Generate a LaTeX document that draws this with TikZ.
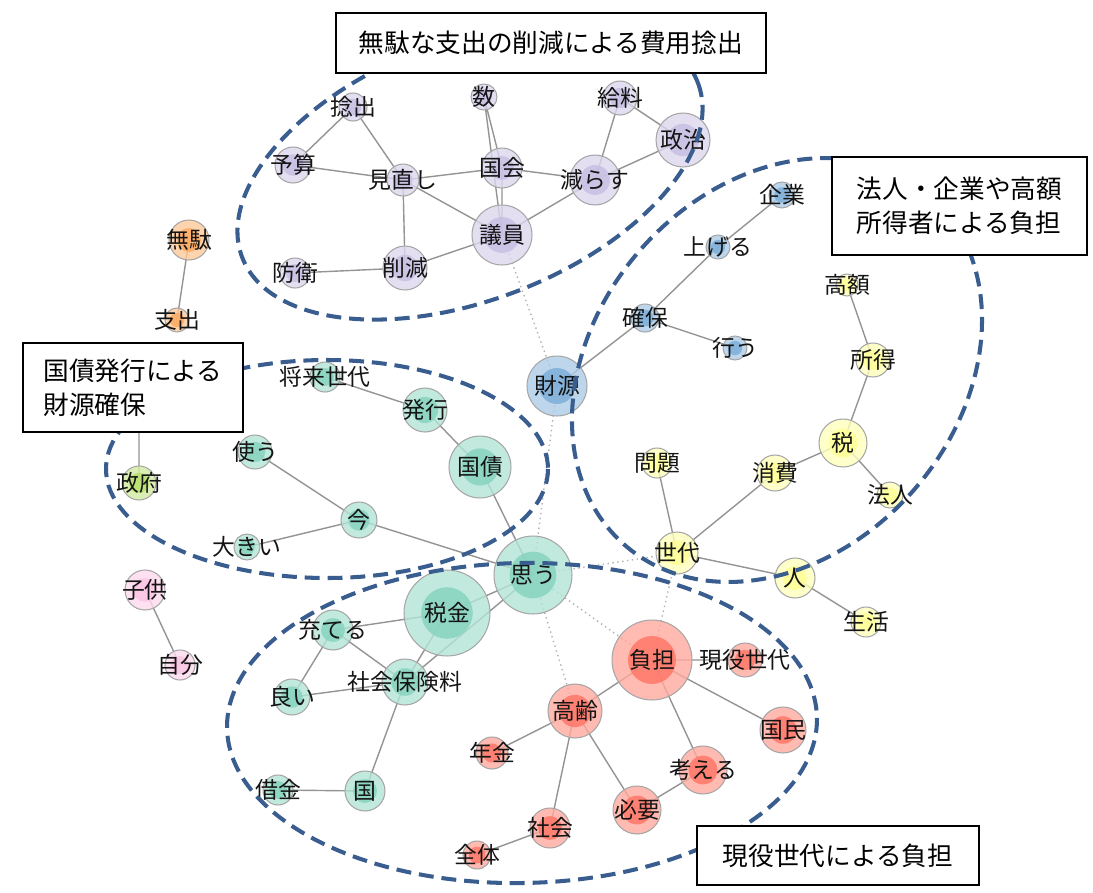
\documentclass[tikz,border=0pt]{standalone}
\usepackage{fontspec}
\setmainfont{Noto Sans CJK JP}
\usepackage{tikz}
\usetikzlibrary{backgrounds}
\definecolor{ringblue}{RGB}{58,93,143}
\definecolor{cpu}{RGB}{198,190,227}
\definecolor{cbl}{RGB}{122,172,216}
\definecolor{cye}{RGB}{255,255,148}
\definecolor{cte}{RGB}{132,211,189}
\definecolor{cre}{RGB}{255,116,100}
\definecolor{cor}{RGB}{252,168,92}
\definecolor{cgr}{RGB}{182,222,104}
\definecolor{cpi}{RGB}{250,196,228}

\begin{document}
\begin{tikzpicture}[x=0.02cm,y=-0.02cm,
  wd/.style 2 args={circle,draw=black!35,line width=0.6pt,inner sep=0pt,
    minimum size=#1*0.04cm,fill=#2!62!white,fill opacity=0.8,
    path picture={\fill[#2] (path picture bounding box.center) circle (#1*0.012cm);}},
  every label/.style={font=\fontsize{13}{14}\selectfont,text=black!92,inner sep=0pt},
  ln/.style={draw=black!42,line width=0.8pt},
  dt/.style={draw=black!30,line width=0.8pt,dotted},
  ring/.style={draw=ringblue,line width=2.3pt,dash pattern=on 8.5pt off 4.5pt},
  capbox/.style={draw=black,line width=1.1pt,fill=white,inner sep=0pt,align=left,
    anchor=north west,font=\fontsize{14.6}{19.3}\selectfont}]
\useasboundingbox (0,0) rectangle (1093,893);

\node[wd={14}{cpu},label={center:捻出}] (nenshutsu) at (353,107) {};
\node[wd={13}{cpu},label={center:数}] (kazu) at (484,97) {};
\node[wd={17}{cpu},label={center:給料}] (kyuryo) at (620,98) {};
\node[wd={27}{cpu},label={center:政治}] (seiji) at (683,140) {};
\node[wd={18}{cpu},label={center:予算}] (yosan) at (293,165) {};
\node[wd={16}{cpu},label={center:見直し}] (minaoshi) at (403,180) {};
\node[wd={20}{cpu},label={center:国会}] (kokkai) at (502,168) {};
\node[wd={25}{cpu},label={center:減らす}] (herasu) at (595,180) {};
\node[wd={30}{cpu},label={center:議員}] (giin) at (502,235) {};
\node[wd={22}{cpu},label={center:削減}] (sakugen) at (405,268) {};
\node[wd={15}{cpu},label={center:防衛}] (boei) at (295,273) {};

\node[wd={30}{cbl},label={center:財源}] (zaigen) at (557,386) {};
\node[wd={14}{cbl},label={center:確保}] (kakuho) at (645,318) {};
\node[wd={12}{cbl},label={center:上げる}] (ageru) at (718,247) {};
\node[wd={13}{cbl},label={center:企業}] (kigyo) at (782,195) {};
\node[wd={12}{cbl},label={center:行う}] (okonau) at (735,348) {};

\node[wd={11}{cye},label={center:高額}] (kogaku) at (847,285) {};
\node[wd={17}{cye},label={center:所得}] (shotoku) at (873,360) {};
\node[wd={24}{cye},label={center:税}] (zei) at (843,443) {};
\node[wd={13}{cye},label={center:法人}] (hojin) at (890,495) {};
\node[wd={18}{cye},label={center:消費}] (shohi) at (775,473) {};
\node[wd={15}{cye},label={center:問題}] (mondai) at (657,463) {};
\node[wd={21}{cye},label={center:世代}] (sedai) at (677,553) {};
\node[wd={20}{cye},label={center:人}] (hito) at (795,578) {};
\node[wd={15}{cye},label={center:生活}] (seikatsu) at (866,622) {};

\node[wd={20}{cor},label={center:無駄}] (muda) at (189,240) {};
\node[wd={12}{cor},label={center:支出}] (shishutsu) at (177,320) {};
\node[wd={17}{cgr},label={center:政府}] (seifu) at (139,483) {};
\coordinate (seifuup) at (139,420);
\node[wd={20}{cpi},label={center:子供}] (kodomo) at (145,590) {};
\node[wd={15}{cpi},label={center:自分}] (jibun) at (180,665) {};

\node[wd={15}{cte},label={center:将来世代}] (shorai) at (325,377) {};
\node[wd={22}{cte},label={center:発行}] (hakko) at (425,410) {};
\node[wd={31}{cte},label={center:国債}] (kokusai) at (480,467) {};
\node[wd={17}{cte},label={center:使う}] (tsukau) at (255,452) {};
\node[wd={18}{cte},label={center:今}] (ima) at (359,520) {};
\node[wd={13}{cte},label={center:大きい}] (ookii) at (247,547) {};
\node[wd={39}{cte},label={center:思う}] (omou) at (533,575) {};
\node[wd={43}{cte},label={center:税金}] (zeikin) at (447,613) {};
\node[wd={20}{cte},label={center:充てる}] (ateru) at (333,630) {};
\node[wd={23}{cte},label={center:社会保険料}] (hoken) at (405,682) {};
\node[wd={18}{cte},label={center:良い}] (yoi) at (292,697) {};
\node[wd={15}{cte},label={center:借金}] (shakkin) at (278,790) {};
\node[wd={20}{cte},label={center:国}] (kuni) at (365,791) {};

\node[wd={40}{cre},label={center:負担}] (futan) at (652,660) {};
\node[wd={17}{cre},label={center:現役世代}] (geneki) at (745,660) {};
\node[wd={23}{cre},label={center:国民}] (kokumin) at (783,730) {};
\node[wd={27}{cre},label={center:高齢}] (korei) at (575,711) {};
\node[wd={16}{cre},label={center:年金}] (nenkin) at (492,753) {};
\node[wd={24}{cre},label={center:考える}] (kangaeru) at (703,770) {};
\node[wd={24}{cre},label={center:必要}] (hitsuyo) at (637,810) {};
\node[wd={20}{cre},label={center:社会}] (shakai) at (550,828) {};
\node[wd={14}{cre},label={center:全体}] (zentai) at (477,855) {};

\begin{scope}[on background layer]
\draw[ln] (nenshutsu.center)--(yosan.center) (nenshutsu.center)--(minaoshi.center)
  (yosan.center)--(minaoshi.center) (minaoshi.center)--(kokkai.center)
  (minaoshi.center)--(giin.center) (minaoshi.center)--(sakugen.center)
  (kazu.center)--(kokkai.center) (kazu.center)--(giin.center)
  (kokkai.center)--(giin.center) (kokkai.center)--(herasu.center)
  (herasu.center)--(giin.center) (herasu.center)--(kyuryo.center)
  (herasu.center)--(seiji.center) (kyuryo.center)--(seiji.center)
  (sakugen.center)--(giin.center) (sakugen.center)--(boei.center);
\draw[ln] (zaigen.center)--(kakuho.center) (kakuho.center)--(ageru.center)
  (ageru.center)--(kigyo.center) (kakuho.center)--(okonau.center);
\draw[ln] (kogaku.center)--(shotoku.center) (shotoku.center)--(zei.center)
  (zei.center)--(shohi.center) (zei.center)--(hojin.center)
  (shohi.center)--(sedai.center) (mondai.center)--(sedai.center)
  (sedai.center)--(hito.center) (hito.center)--(seikatsu.center);
\draw[ln] (muda.center)--(shishutsu.center) (seifu.center)--(seifuup)
  (kodomo.center)--(jibun.center);
\draw[ln] (shorai.center)--(hakko.center) (hakko.center)--(kokusai.center)
  (kokusai.center)--(omou.center) (tsukau.center)--(ima.center)
  (ima.center)--(ookii.center) (ima.center)--(omou.center)
  (omou.center)--(zeikin.center) (omou.center)--(hoken.center)
  (zeikin.center)--(hoken.center) (zeikin.center)--(ateru.center)
  (ateru.center)--(hoken.center) (ateru.center)--(yoi.center)
  (yoi.center)--(hoken.center) (hoken.center)--(kuni.center)
  (kuni.center)--(shakkin.center);
\draw[ln] (futan.center)--(geneki.center) (futan.center)--(korei.center)
  (futan.center)--(kokumin.center) (futan.center)--(kangaeru.center)
  (korei.center)--(nenkin.center) (korei.center)--(shakai.center)
  (korei.center)--(hitsuyo.center) (hitsuyo.center)--(kangaeru.center)
  (shakai.center)--(zentai.center);
\draw[dt] (giin.center)--(zaigen.center) (zaigen.center)--(omou.center)
  (sedai.center)--(omou.center) (sedai.center)--(futan.center)
  (omou.center)--(korei.center) (omou.center)--(futan.center);
\end{scope}

\draw[ring,rotate around={21:(470,170)}] (470,170) ellipse (244 and 130);
\draw[ring,rotate around={49:(777,370)}] (777,370) ellipse (232 and 182);
\draw[ring] (327,469) ellipse (221 and 109);
\draw[ring,rotate around={1:(522,723)}] (522,723) ellipse (295 and 160);

\node[capbox,minimum width=8.6cm,minimum height=1.2cm] (capcut) at (335,12) {無駄な支出の削減による費用捻出};
\node[capbox,minimum width=5.1cm,minimum height=1.96cm] (capcorp) at (831,156) {法人・企業や高額\\所得者による負担};
\node[capbox,minimum width=4.4cm,minimum height=1.78cm] (capbond) at (22,342) {国債発行による\\財源確保};
\node[capbox,minimum width=5.64cm,minimum height=1.18cm] (capgen) at (696,825) {現役世代による負担};
\end{tikzpicture}
\end{document}
